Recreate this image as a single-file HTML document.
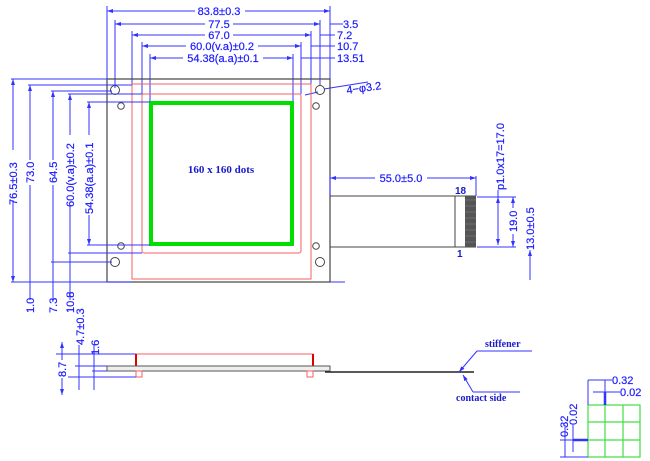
<!DOCTYPE html>
<html><head><meta charset="utf-8"><style>
html,body{margin:0;padding:0;background:#fff;width:650px;height:461px;overflow:hidden}
text{font-family:"Liberation Sans",sans-serif;font-size:11px;fill:#1a1aff;stroke:#1a1aff;stroke-width:0.2}
.b{stroke:#3333ff;stroke-width:1;fill:none}
</style></head><body>
<svg width="650" height="461" viewBox="0 0 650 461" xmlns="http://www.w3.org/2000/svg">
<defs><marker id="a" markerWidth="6" markerHeight="4" refX="6" refY="2" orient="auto-start-reverse"><path d="M0,0L6,2L0,4z" fill="#3333ff"/></marker></defs>
<g class="b">
<line x1="107" y1="11" x2="330" y2="11" marker-start="url(#a)" marker-end="url(#a)"/>
<line x1="115" y1="24" x2="320" y2="24" marker-start="url(#a)" marker-end="url(#a)"/>
<line x1="132" y1="35" x2="311" y2="35" marker-start="url(#a)" marker-end="url(#a)"/>
<line x1="142" y1="46" x2="301" y2="46" marker-start="url(#a)" marker-end="url(#a)"/>
<line x1="150" y1="58" x2="293" y2="58" marker-start="url(#a)" marker-end="url(#a)"/>
<line x1="107" y1="6" x2="107" y2="79"/><line x1="330" y1="6" x2="330" y2="79"/>
<line x1="115" y1="20" x2="115" y2="88"/><line x1="320" y1="20" x2="320" y2="86"/>
<line x1="132" y1="31" x2="132" y2="84"/><line x1="311" y1="31" x2="311" y2="84"/>
<line x1="142" y1="42" x2="142" y2="94"/><line x1="301" y1="42" x2="301" y2="94"/>
<line x1="150" y1="54" x2="150" y2="102"/><line x1="293" y1="54" x2="293" y2="102"/>
<line x1="330" y1="24" x2="343" y2="24"/><line x1="320" y1="35" x2="335" y2="35"/>
<line x1="311" y1="46" x2="335" y2="46"/><line x1="301" y1="58" x2="335" y2="58"/>
<line x1="324" y1="89" x2="368" y2="82"/><line x1="305" y1="95" x2="318" y2="92"/>
</g>
<g text-anchor="middle">
<rect x="195" y="4" width="50" height="12" fill="#fff"/><text x="219" y="15">83.8±0.3</text>
<rect x="205" y="18" width="28" height="12" fill="#fff"/><text x="219" y="28">77.5</text>
<rect x="205" y="29" width="28" height="12" fill="#fff"/><text x="219" y="39">67.0</text>
<rect x="186" y="40" width="72" height="12" fill="#fff"/><text x="222" y="50">60.0(v.a)±0.2</text>
<rect x="183" y="52" width="80" height="12" fill="#fff"/><text x="223" y="62">54.38(a.a)±0.1</text>
</g>
<text x="343" y="28">3.5</text><text x="337" y="39">7.2</text><text x="337" y="50">10.7</text><text x="337" y="62">13.51</text>
<text x="347" y="94" transform="rotate(-8 347 94)">4−φ3.2</text>
<rect x="107" y="79" width="223" height="203" fill="none" stroke="#444" stroke-width="1.2"/>
<rect x="132" y="84" width="179" height="195" fill="none" stroke="#f06060" stroke-width="1"/>
<rect x="142" y="94" width="159" height="159" rx="2" fill="none" stroke="#f06060" stroke-width="1"/>
<rect x="151" y="103" width="141" height="141" fill="none" stroke="#00e000" stroke-width="4"/>
<text x="221" y="173" text-anchor="middle" style="font-family:'Liberation Serif',serif;font-weight:bold;font-size:11px;fill:#1a1acc;stroke:none">160 x 160 dots</text>
<g fill="none" stroke="#444">
<circle cx="115" cy="90" r="4.5"/><circle cx="320" cy="90" r="4.5"/><circle cx="115" cy="262" r="4.5"/><circle cx="320" cy="262" r="4.5"/>
<circle cx="121" cy="106" r="3.3"/><circle cx="316" cy="106" r="3.3"/><circle cx="121" cy="246" r="3.3"/><circle cx="316" cy="246" r="3.3"/>
</g>
<g class="b">
<line x1="13" y1="79" x2="13" y2="282" marker-start="url(#a)" marker-end="url(#a)"/>
<line x1="30" y1="85" x2="30" y2="300" marker-start="url(#a)"/>
<line x1="53" y1="91" x2="53" y2="300" marker-start="url(#a)"/>
<line x1="70" y1="94" x2="70" y2="300" marker-start="url(#a)"/>
<line x1="89" y1="102" x2="89" y2="245" marker-start="url(#a)" marker-end="url(#a)"/>
<line x1="11" y1="79" x2="107" y2="79"/><line x1="28" y1="85" x2="132" y2="85"/>
<line x1="51" y1="91" x2="112" y2="91"/><line x1="68" y1="94" x2="142" y2="94"/>
<line x1="87" y1="102" x2="150" y2="102"/><line x1="87" y1="245" x2="150" y2="245"/>
<line x1="68" y1="253" x2="142" y2="253"/><line x1="51" y1="262" x2="112" y2="262"/>
<line x1="11" y1="282" x2="132" y2="282"/>
<line x1="330" y1="282" x2="345" y2="282"/>
</g>
<rect x="7" y="150" width="12" height="50" fill="#fff"/><text transform="translate(17,205) rotate(-90)">76.5±0.3</text>
<rect x="24" y="160" width="12" height="25" fill="#fff"/><text transform="translate(34,183) rotate(-90)">73.0</text>
<rect x="47" y="160" width="12" height="25" fill="#fff"/><text transform="translate(57,183) rotate(-90)">64.5</text>
<rect x="64" y="135" width="12" height="70" fill="#fff"/><text transform="translate(74,207) rotate(-90)">60.0(v.a)±0.2</text>
<rect x="83" y="135" width="12" height="80" fill="#fff"/><text transform="translate(93,214) rotate(-90)">54.38(a.a)±0.1</text>
<text transform="translate(34,313) rotate(-90)">1.0</text>
<text transform="translate(57,313) rotate(-90)">7.3</text>
<text transform="translate(74,313) rotate(-90)">10.8</text>
<text transform="translate(84,345) rotate(-90)">4.7±0.3</text>
<g stroke="#444" fill="none">
<line x1="330" y1="196" x2="476" y2="196"/><line x1="330" y1="247" x2="476" y2="247"/>
<line x1="455" y1="196" x2="455" y2="247"/>
</g>
<rect x="465" y="196" width="11" height="51" fill="#555"/>
<g stroke="#888" stroke-width="0.5"><line x1="465" y1="200" x2="476" y2="200"/><line x1="465" y1="206" x2="476" y2="206"/><line x1="465" y1="212" x2="476" y2="212"/><line x1="465" y1="218" x2="476" y2="218"/><line x1="465" y1="224" x2="476" y2="224"/><line x1="465" y1="230" x2="476" y2="230"/><line x1="465" y1="236" x2="476" y2="236"/><line x1="465" y1="242" x2="476" y2="242"/></g>
<text x="455" y="194" style="font-size:10px;font-weight:bold;fill:#1a1acc;stroke:none">18</text>
<text x="457" y="257" style="font-size:10px;font-weight:bold;fill:#1a1acc;stroke:none">1</text>
<g class="b">
<line x1="330" y1="178" x2="476" y2="178" marker-start="url(#a)" marker-end="url(#a)"/>
<line x1="330" y1="176" x2="330" y2="196"/><line x1="476" y1="176" x2="476" y2="196"/>
<line x1="477" y1="197" x2="516" y2="197"/><line x1="477" y1="247" x2="516" y2="247"/>
<line x1="498" y1="197" x2="498" y2="245" marker-start="url(#a)" marker-end="url(#a)"/>
<line x1="513" y1="197" x2="513" y2="247" marker-start="url(#a)" marker-end="url(#a)"/>
<line x1="530" y1="250" x2="530" y2="280" marker-start="url(#a)"/>
<line x1="498" y1="190" x2="498" y2="197"/>
</g>
<rect x="375" y="172" width="52" height="12" fill="#fff"/><text x="401" y="182" text-anchor="middle">55.0±5.0</text>
<text transform="translate(504,190) rotate(-90)">p1.0x17=17.0</text>
<rect x="507" y="208" width="12" height="26" fill="#fff"/><text transform="translate(517,232) rotate(-90)">19.0</text>
<text transform="translate(534,250) rotate(-90)">13.0±0.5</text>
<rect x="136" y="354" width="177" height="12" fill="none" stroke="#f06060"/>
<line x1="136" y1="354" x2="136" y2="366" stroke="#e00000" stroke-width="2"/>
<line x1="313" y1="354" x2="313" y2="366" stroke="#e00000" stroke-width="2"/>
<rect x="107" y="366" width="223" height="5" fill="#eee" stroke="#555"/>
<rect x="136" y="371" width="6" height="6" fill="none" stroke="#f06060"/>
<rect x="307" y="371" width="6" height="6" fill="none" stroke="#f06060"/>
<line x1="325" y1="372" x2="474" y2="372" stroke="#222" stroke-width="1.5"/>
<g class="b">
<line x1="56" y1="354" x2="136" y2="354"/><line x1="75" y1="366" x2="107" y2="366"/>
<line x1="56" y1="377" x2="136" y2="377"/><line x1="92" y1="371" x2="107" y2="371"/>
<line x1="62" y1="342" x2="62" y2="395" marker-start="url(#a)" marker-end="url(#a)"/>
<line x1="79" y1="345" x2="79" y2="390"/><line x1="94" y1="345" x2="94" y2="390"/>
<line x1="477" y1="351" x2="532" y2="351"/><line x1="477" y1="351" x2="459" y2="372" marker-end="url(#a)"/>
<line x1="473" y1="392" x2="520" y2="392"/><line x1="473" y1="392" x2="463" y2="375" marker-end="url(#a)"/>
</g>
<rect x="56" y="360" width="12" height="18" fill="#fff"/><text transform="translate(66,377) rotate(-90)">8.7</text>
<text transform="translate(99,355) rotate(-90)">1.6</text>
<text x="485" y="347" style="font-family:'Liberation Serif',serif;font-weight:bold;font-size:10px;fill:#1a1acc;stroke:none">stiffener</text>
<text x="456" y="401" style="font-family:'Liberation Serif',serif;font-weight:bold;font-size:10px;fill:#1a1acc;stroke:none">contact side</text>
<g stroke="#40e040" stroke-width="1.2" fill="none">
<rect x="588" y="405" width="52" height="52"/>
<line x1="605" y1="405" x2="605" y2="457"/><line x1="623" y1="405" x2="623" y2="457"/>
<line x1="588" y1="422" x2="640" y2="422"/><line x1="588" y1="440" x2="640" y2="440"/>
</g>
<g class="b">
<line x1="588" y1="380" x2="588" y2="405"/><line x1="605" y1="380" x2="605" y2="405"/>
<line x1="588" y1="380" x2="612" y2="380"/><line x1="593" y1="392" x2="620" y2="392"/>
<line x1="605" y1="392" x2="605" y2="405" stroke-width="2.5"/>
<line x1="560" y1="440" x2="588" y2="440"/><line x1="560" y1="457" x2="588" y2="457"/>
<line x1="565" y1="425" x2="565" y2="457"/><line x1="573" y1="425" x2="573" y2="452"/>
<line x1="573" y1="440" x2="588" y2="440" stroke-width="2.5"/>
</g>
<text x="612" y="384">0.32</text><text x="620" y="396">0.02</text>
<text transform="translate(568,437) rotate(-90)">0.32</text>
<text transform="translate(577,425) rotate(-90)">0.02</text>
</svg>
</body></html>
